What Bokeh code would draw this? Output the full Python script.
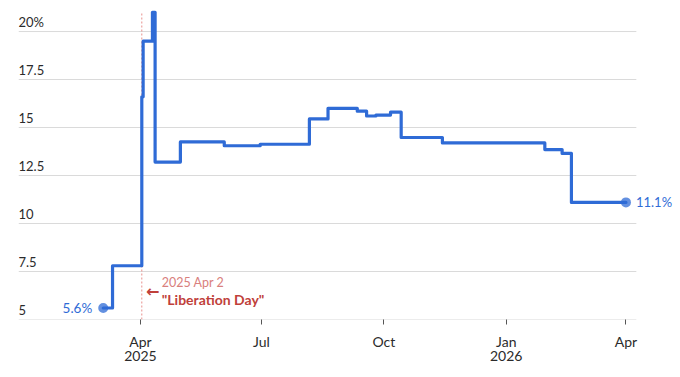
from datetime import datetime, timedelta
from bokeh.plotting import figure
from bokeh.models import FixedTicker, Range1d, ColumnDataSource
from bokeh.core.properties import value
from bokeh.embed import file_html
from bokeh.resources import INLINE

# ---- data ----
dates = ["2025-03-04", "2025-03-11", "2025-04-02", "2025-04-03", "2025-04-10",
         "2025-04-12", "2025-05-01", "2025-06-03", "2025-06-30", "2025-08-06",
         "2025-08-20", "2025-09-11", "2025-09-18", "2025-09-25", "2025-10-06",
         "2025-10-14", "2025-11-14", "2026-01-30", "2026-02-12", "2026-02-19",
         "2026-04-01"]
rates = [5.6, 7.8, 16.6, 19.5, 21.0,
         13.2, 14.25, 14.05, 14.13, 15.45,
         16.0, 15.85, 15.6, 15.65, 15.8,
         14.48, 14.2, 13.85, 13.65, 11.1,
         11.1]
start_label = "5.6%"
end_label = "11.1%"

y_ticks = [5, 7.5, 10, 12.5, 15, 17.5, 20]
y_tick_labels = ["5", "7.5", "10", "12.5", "15", "17.5", "20%"]

x_tick_dates = ["2025-04-01", "2025-07-01", "2025-10-01", "2026-01-01", "2026-04-01"]
x_tick_labels = ["Apr\n2025", "Jul", "Oct", "Jan\n2026", "Apr"]

event_date = "2025-04-02"
event_date_label = "2025 Apr 2"
event_name = '"Liberation Day"'

# ---- helpers ----
def to_dt(s):
    return datetime.strptime(s, "%Y-%m-%d")

EPOCH = datetime(1970, 1, 1)
def to_ms(d):
    return (d - EPOCH).total_seconds() * 1000.0

xs = [to_dt(d) for d in dates]
ev = to_dt(event_date)

BLUE = "#2f6bd6"
TEXT = "#2b2b2b"
GRID = "#dadada"

# visible chart area (gridlines) and wider frame so right-hand label is not clipped
x_start = to_dt("2025-04-01") - timedelta(days=91.7)
x_grid_end = to_dt("2026-04-01") + timedelta(days=7.8)
x_end = to_dt("2026-04-01") + timedelta(days=41.0)

p = figure(width=680, height=377, x_axis_type="datetime",
           output_backend="svg", toolbar_location=None,
           x_range=Range1d(x_start, x_end), y_range=Range1d(5, 21.2),
           min_border_left=18, min_border_right=0, min_border_top=8,
           min_border_bottom=58)
p.outline_line_color = None
p.background_fill_color = "white"
p.border_fill_color = "white"

p.xgrid.visible = False
p.ygrid.visible = False
p.yaxis.visible = False

# horizontal gridlines (also act as the baseline)
p.segment(x0=[x_start] * len(y_ticks), y0=y_ticks,
          x1=[x_grid_end] * len(y_ticks), y1=y_ticks,
          line_color=GRID, line_width=1)

# x axis
ticks_ms = [to_ms(to_dt(d)) for d in x_tick_dates]
p.xaxis.ticker = FixedTicker(ticks=ticks_ms)
p.xaxis.major_label_overrides = {t: l for t, l in zip(ticks_ms, x_tick_labels)}
p.xaxis.axis_line_color = None
p.xaxis.major_tick_line_color = "#555555"
p.xaxis.major_tick_out = 5
p.xaxis.major_tick_in = 0
p.xaxis.minor_tick_line_color = None
p.xaxis.major_label_text_font = "Lato"
p.xaxis.major_label_text_font_size = "14px"
p.xaxis.major_label_text_color = TEXT
p.xaxis.major_label_text_line_height = 0.85
p.xaxis.major_label_standoff = 8

# y tick labels drawn inside the plot, above the gridlines
ysrc = ColumnDataSource(dict(x=[x_start] * len(y_ticks), y=y_ticks, t=y_tick_labels))
p.text(x="x", y="y", text="t", source=ysrc, text_font=value("Lato"),
       text_font_size="13px", text_color=TEXT, text_align="left",
       text_baseline="middle", y_offset=-10)

# event marker
p.segment(x0=[ev], y0=[5], x1=[ev], y1=[21.0], line_color="#e8908c",
          line_width=1, line_dash="2 2")
p.text(x=[ev], y=[5], text=[event_date_label], text_font=value("Lato"),
       text_font_size="12.5px", text_color="#d9807d", text_align="left",
       text_baseline="middle", x_offset=20, y_offset=-37)
p.text(x=[ev], y=[5], text=[event_name], text_font=value("Lato"),
       text_font_size="14px", text_font_style="bold", text_color="#c0403a",
       text_align="left", text_baseline="middle", x_offset=20, y_offset=-20)
p.text(x=[ev], y=[5], text=["\u2190"], text_font=value("DejaVu Sans"),
       text_font_size="16px", text_font_style="bold", text_color="#c0403a",
       text_align="center", text_baseline="middle", x_offset=11, y_offset=-28)

# series
p.step(xs, rates, mode="after", line_color=BLUE, line_width=3.2,
       line_join="round", line_cap="round")
p.scatter([xs[0], xs[-1]], [rates[0], rates[-1]], size=10,
          fill_color=BLUE, fill_alpha=0.75, line_color=None)

p.text(x=[xs[0]], y=[rates[0]], text=[start_label], text_font=value("Lato"),
       text_font_size="13.5px", text_color=BLUE, text_align="right",
       text_baseline="middle", x_offset=-11)
p.text(x=[xs[-1]], y=[rates[-1]], text=[end_label], text_font=value("Lato"),
       text_font_size="13px", text_color=BLUE, text_align="left",
       text_baseline="middle", x_offset=10)

open("out.html", "w").write(file_html(p, INLINE))
